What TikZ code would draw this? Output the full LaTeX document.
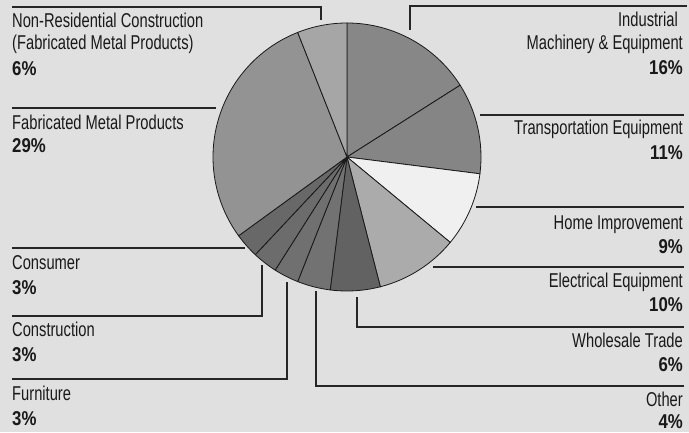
\documentclass[tikz,border=0pt]{standalone}
\usepackage{fontspec}
\usepackage{xcolor}
\usepackage{tikz}
\usetikzlibrary{positioning}
\newfontfamily\lblfont{Liberation Sans}[FakeStretch=0.735]
\newfontfamily\pctfont{Liberation Sans}[FakeStretch=0.84]
\definecolor{bgcol}{HTML}{E0E0E0}
\definecolor{indcol}{HTML}{878787}
\definecolor{trncol}{HTML}{858585}
\definecolor{homcol}{HTML}{F0F0F0}
\definecolor{elecol}{HTML}{ABABAB}
\definecolor{whlcol}{HTML}{626262}
\definecolor{othcol}{HTML}{727272}
\definecolor{furcol}{HTML}{707070}
\definecolor{concol}{HTML}{6C6C6C}
\definecolor{csmcol}{HTML}{686868}
\definecolor{fabcol}{HTML}{939393}
\definecolor{nrccol}{HTML}{A6A6A6}
\tikzset{
  lbl/.style={font=\lblfont\fontsize{20}{22}\selectfont, inner sep=0pt, text=black!90},
  pct/.style={font=\pctfont\bfseries\fontsize{20}{22}\selectfont, inner sep=0pt, text=black!90},
  rule/.style={line width=1.1pt, black!85},
  slice/.style={draw=black!90, line width=0.8pt}
}

\begin{document}
\begin{tikzpicture}[x=1pt,y=1pt]
        \fill[bgcol] (0,0) rectangle (689,432);
        \useasboundingbox (0,0) rectangle (689,432);
        % pie
        \coordinate (c) at (347,275);
        \filldraw[slice,fill=indcol] (c) -- ++(90:134pt) arc[start angle=90,end angle=32.4,radius=134pt] -- cycle;
        \filldraw[slice,fill=trncol] (c) -- ++(32.4:134pt) arc[start angle=32.4,end angle=-7.2,radius=134pt] -- cycle;
        \filldraw[slice,fill=homcol] (c) -- ++(-7.2:134pt) arc[start angle=-7.2,end angle=-39.6,radius=134pt] -- cycle;
        \filldraw[slice,fill=elecol] (c) -- ++(-39.6:134pt) arc[start angle=-39.6,end angle=-75.6,radius=134pt] -- cycle;
        \filldraw[slice,fill=whlcol] (c) -- ++(-75.6:134pt) arc[start angle=-75.6,end angle=-97.2,radius=134pt] -- cycle;
        \filldraw[slice,fill=othcol] (c) -- ++(-97.2:134pt) arc[start angle=-97.2,end angle=-111.6,radius=134pt] -- cycle;
        \filldraw[slice,fill=furcol] (c) -- ++(-111.6:134pt) arc[start angle=-111.6,end angle=-122.4,radius=134pt] -- cycle;
        \filldraw[slice,fill=concol] (c) -- ++(-122.4:134pt) arc[start angle=-122.4,end angle=-133.2,radius=134pt] -- cycle;
        \filldraw[slice,fill=csmcol] (c) -- ++(-133.2:134pt) arc[start angle=-133.2,end angle=-144,radius=134pt] -- cycle;
        \filldraw[slice,fill=fabcol] (c) -- ++(-144:134pt) arc[start angle=-144,end angle=-248.4,radius=134pt] -- cycle;
        \filldraw[slice,fill=nrccol] (c) -- ++(111.6:134pt) arc[start angle=111.6,end angle=90,radius=134pt] -- cycle;
        % left labels
        \node[lbl,anchor=base west] (nrcA) at (12,404) {Non-Residential Construction};
        \node[lbl,anchor=base west] (nrcB) at (12,382) {(Fabricated Metal Products)};
        \node[pct,anchor=base west] (nrcP) at (12,356) {6\%};
        \node[lbl,anchor=base west] (fabA) at (12,302) {Fabricated Metal Products};
        \node[pct,anchor=base west] (fabP) at (12,279) {29\%};
        \node[lbl,anchor=base west] (csmA) at (12,162.7) {Consumer};
        \node[pct,anchor=base west] (csmP) at (12,138) {3\%};
        \node[lbl,anchor=base west] (conA) at (12,95.3) {Construction};
        \node[pct,anchor=base west] (conP) at (12,70.3) {3\%};
        \node[lbl,anchor=base west] (furA) at (12,32) {Furniture};
        \node[pct,anchor=base west] (furP) at (12,7) {3\%};
        % right labels
        \node[lbl,anchor=base east] (indA) at (678,405.3) {Industrial};
        \node[lbl,anchor=base east] (indB) at (683,382) {Machinery \& Equipment};
        \node[pct,anchor=base east] (indP) at (683,357) {16\%};
        \node[lbl,anchor=base east] (trnA) at (683,297) {Transportation Equipment};
        \node[pct,anchor=base east] (trnP) at (683,272) {11\%};
        \node[lbl,anchor=base east] (homA) at (683,202.7) {Home Improvement};
        \node[pct,anchor=base east] (homP) at (683,178.7) {9\%};
        \node[lbl,anchor=base east] (eleA) at (683,144.7) {Electrical Equipment};
        \node[pct,anchor=base east] (eleP) at (683,120.3) {10\%};
        \node[lbl,anchor=base east] (whlA) at (683,84.7) {Wholesale Trade};
        \node[pct,anchor=base east] (whlP) at (683,60.3) {6\%};
        \node[lbl,anchor=base east] (othA) at (683,26) {Other};
        \node[pct,anchor=base east] (othP) at (683,3.5) {4\%};
        % leader lines
        \coordinate (nrcL) at (12,425);   \coordinate (nrcE) at (321,412);
        \coordinate (fabL) at (12,324);   \coordinate (fabE) at (216,324);
        \coordinate (csmL) at (12,184);   \coordinate (csmE) at (245,184);
        \coordinate (conL) at (12,116);   \coordinate (conE) at (262,167);
        \coordinate (furL) at (12,53);    \coordinate (furE) at (287,150);
        \coordinate (indR) at (687,426);  \coordinate (indE) at (410,402);
        \coordinate (trnR) at (684,317);  \coordinate (trnE) at (480,317);
        \coordinate (homR) at (684,225);  \coordinate (homE) at (476,225);
        \coordinate (eleR) at (684,165);  \coordinate (eleE) at (433,165);
        \coordinate (whlR) at (684,105);  \coordinate (whlE) at (357,135);
        \coordinate (othR) at (684,46);   \coordinate (othE) at (316,141);
        \draw[rule] (nrcL) -| (nrcE);
        \draw[rule] (fabL) -- (fabE);
        \draw[rule] (csmL) -- (csmE);
        \draw[rule] (conL) -| (conE);
        \draw[rule] (furL) -| (furE);
        \draw[rule] (indR) -| (indE);
        \draw[rule] (trnR) -- (trnE);
        \draw[rule] (homR) -- (homE);
        \draw[rule] (eleR) -- (eleE);
        \draw[rule] (whlR) -| (whlE);
        \draw[rule] (othR) -| (othE);
      \end{tikzpicture}
\end{document}
